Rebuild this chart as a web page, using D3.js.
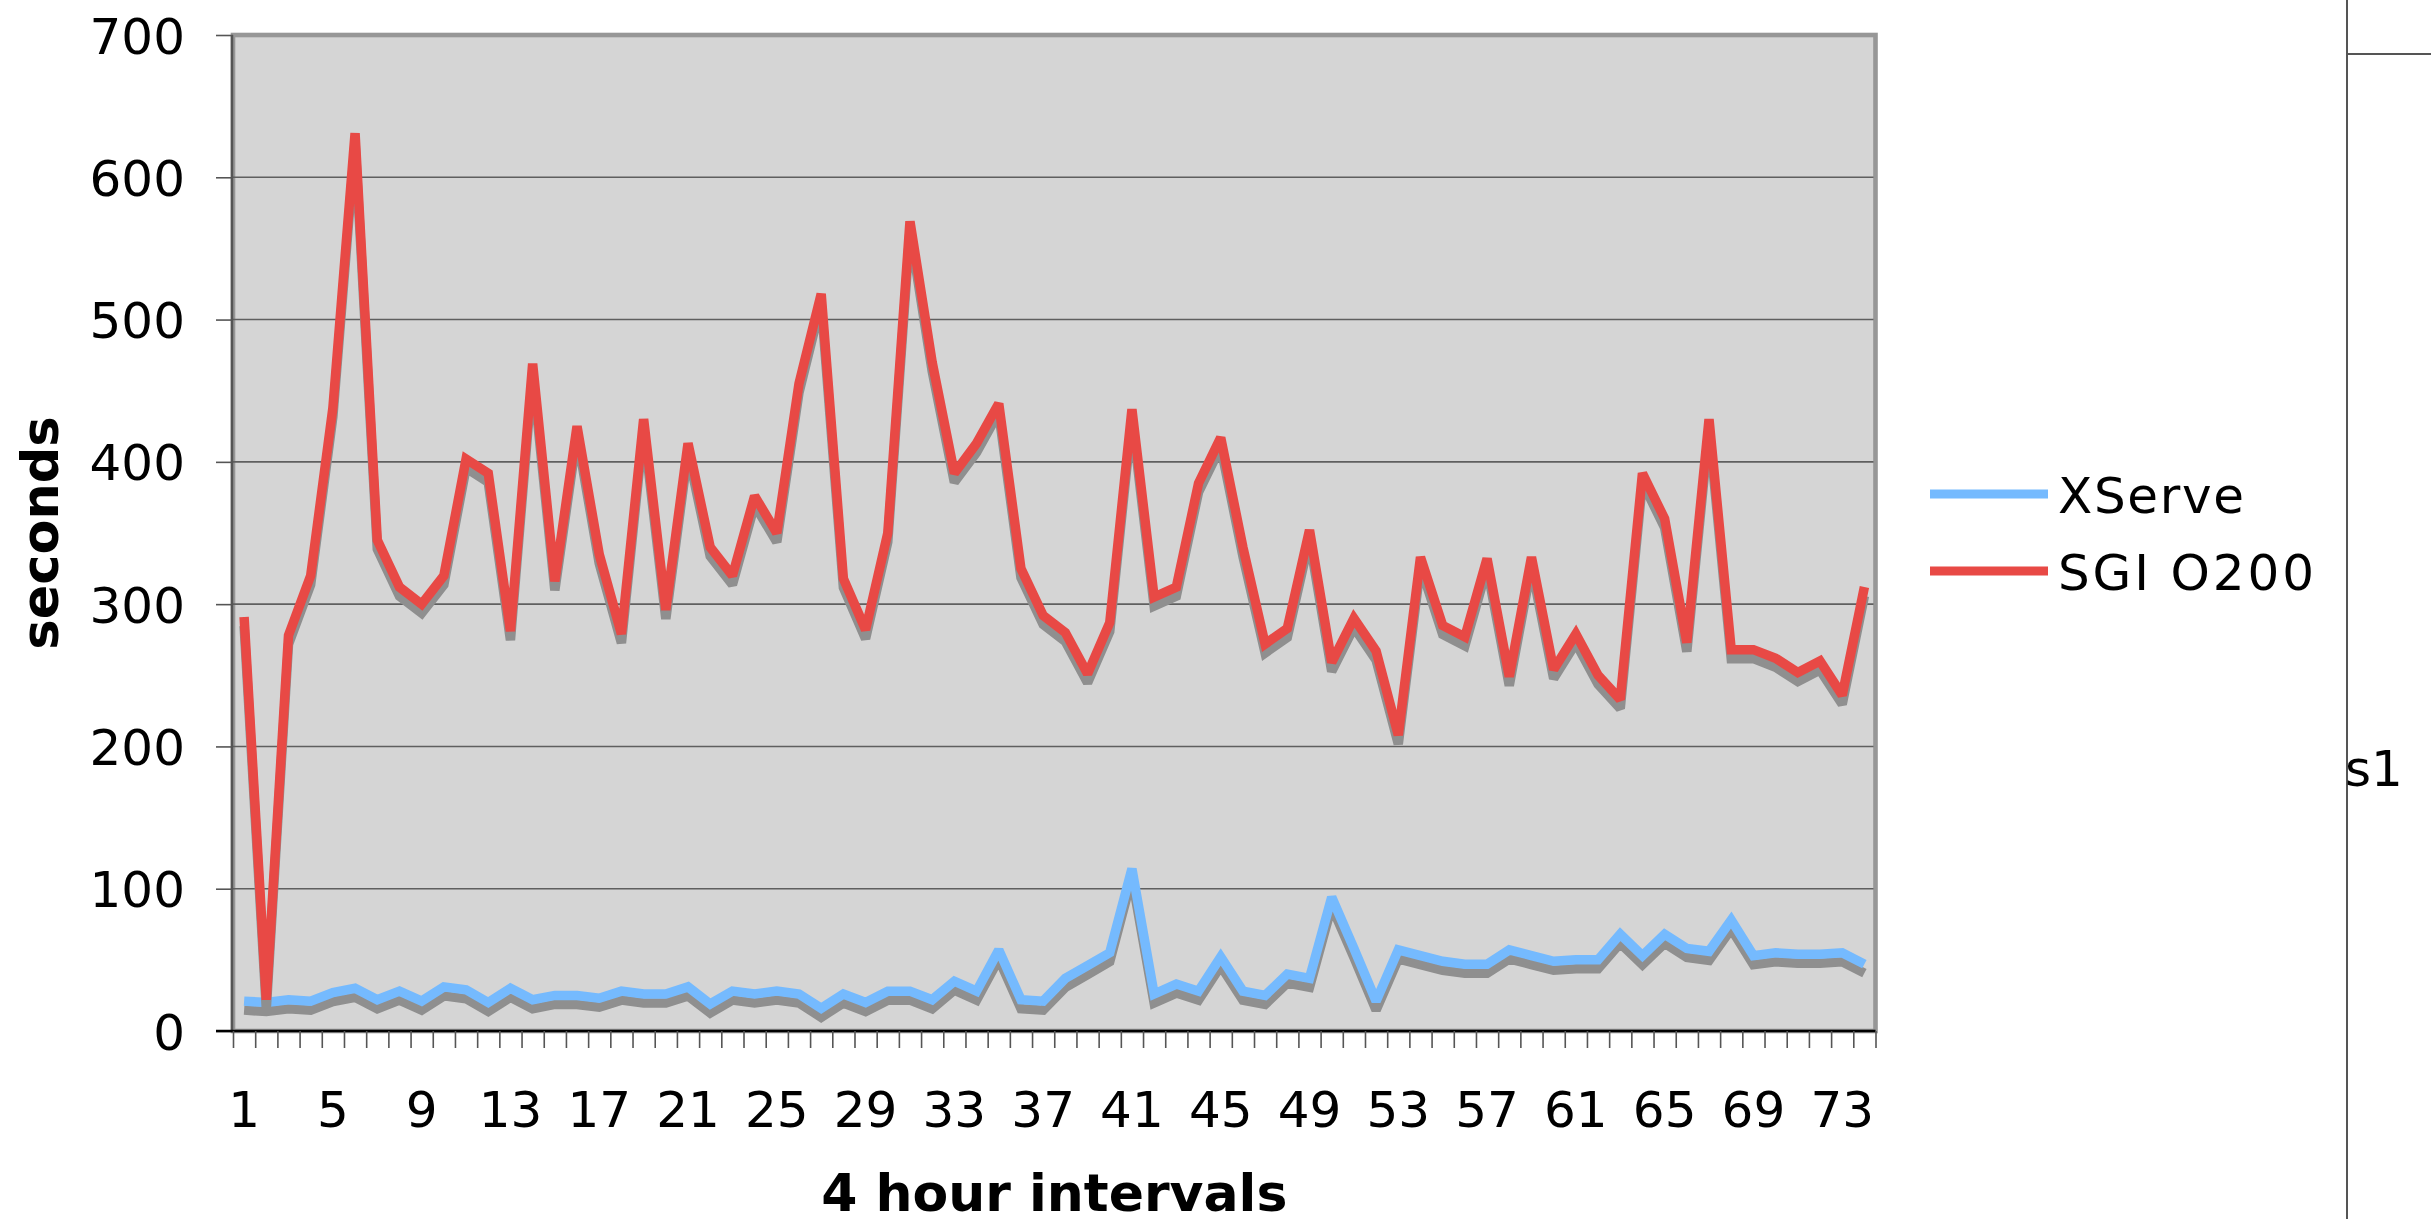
<!DOCTYPE html>
<html><head><meta charset="utf-8">
<script src="https://cdn.jsdelivr.net/npm/d3@7/dist/d3.min.js"></script>
<style>html,body{margin:0;padding:0;background:#fff;overflow:hidden}svg{display:block}</style>
</head><body>
<svg id="chart" width="2431" height="1219"></svg>
<script>
// ---- data ----
const categories = [1,2,3,4,5,6,7,8,9,10,11,12,13,14,15,16,17,18,19,20,21,22,23,24,25,26,27,28,29,30,31,32,33,34,35,36,37,38,39,40,41,42,43,44,45,46,47,48,49,50,51,52,53,54,55,56,57,58,59,60,61,62,63,64,65,66,67,68,69,70,71,72,73,74];
const xserve = [21,20,22,21,27,30,22,28,21,31,29,20,30,22,25,25,23,28,26,26,31,19,28,26,28,26,16,26,20,28,28,22,35,28,57,22,21,37,46,55,114,26,33,28,52,28,25,40,37,94,58,21,57,53,49,47,47,57,53,49,50,50,68,53,68,58,56,78,53,55,54,54,55,47];
const sgi = [291,22,278,320,438,631,345,312,300,320,402,392,281,469,316,425,335,279,430,296,413,340,320,376,350,455,518,318,282,350,569,470,392,413,441,325,292,280,251,287,437,305,312,385,417,340,272,283,352,259,290,267,208,333,285,277,332,249,333,254,279,250,233,392,360,273,430,268,268,262,252,260,236,312];
const seriesNames = ["XServe", "SGI O200"];
const seriesColors = ["#75BAFE", "#E84945"];
const yTicks = [0,100,200,300,400,500,600,700];
const xTickLabels = [1,5,9,13,17,21,25,29,33,37,41,45,49,53,57,61,65,69,73];
const yTitle = "seconds";
const xTitle = "4 hour intervals";
const sideLabel = "s1";

// ---- layout ----
const W = 2431, H = 1219;
const L = 233, R = 1875.5, T = 35, B = 1031;
const FONT = "'DejaVu Sans', Verdana, sans-serif";
const svg = d3.select("#chart");

const x = d3.scaleBand().domain(categories).range([L, R]);
const xb = d3.scaleLinear().domain([0, categories.length]).range([L, R]);
const y = d3.scaleLinear().domain([0, 700]).range([B, T]);

// plot area
svg.append("rect").attr("x", L).attr("y", T).attr("width", R - L).attr("height", B - T)
  .attr("fill", "#D5D5D5").attr("stroke", "#979797").attr("stroke-width", 4.6);

// gridlines
svg.append("g").selectAll("line").data(yTicks.filter(d => d > 0 && d < 700)).join("line")
  .attr("x1", L).attr("x2", R - 2).attr("y1", d => y(d)).attr("y2", d => y(d))
  .attr("stroke", "#5f5f5f").attr("stroke-width", 1.6);

// series
const line = d3.line().x((d, i) => x(categories[i]) + x.bandwidth() / 2).y(d => y(d));
[xserve, sgi].forEach((vals, k) => {
  svg.append("path").datum(vals).attr("d", line).attr("fill", "none")
    .attr("stroke", "#8F8F8F").attr("stroke-width", 9.5).attr("stroke-linejoin", "miter")
    .attr("stroke-miterlimit", 2).attr("transform", "translate(0,9)");
  svg.append("path").datum(vals).attr("d", line).attr("fill", "none")
    .attr("stroke", seriesColors[k]).attr("stroke-width", 9.5).attr("stroke-linejoin", "miter")
    .attr("stroke-miterlimit", 2);
});

// y axis
const yAxis = svg.append("g").attr("transform", `translate(${L},0)`)
  .call(d3.axisLeft(y).tickValues(yTicks).tickSize(17).tickSizeOuter(0).tickPadding(31));
yAxis.select(".domain").attr("stroke", "#555").attr("stroke-width", 2.5).attr("d", `M-1,${T}V${B}`);
yAxis.selectAll(".tick line").attr("stroke", "#555").attr("stroke-width", 1.6);
yAxis.selectAll("text").attr("font-family", FONT).attr("font-size", 50).attr("fill", "#000").attr("dy", "0.36em");

// x axis ticks at category boundaries
const xTicksG = svg.append("g").attr("transform", `translate(0,${B})`)
  .call(d3.axisBottom(xb).tickValues(d3.range(0, categories.length + 1)).tickSize(17).tickSizeOuter(0).tickFormat(""));
xTicksG.select(".domain").attr("stroke", "#000").attr("stroke-width", 2.5).attr("d", `M216,0H${R}`);
xTicksG.selectAll(".tick line").attr("stroke", "#555").attr("stroke-width", 1.6);

// x labels
const xLab = svg.append("g").attr("transform", `translate(0,${B})`)
  .call(d3.axisBottom(x).tickValues(xTickLabels).tickSize(0).tickPadding(60));
xLab.select(".domain").remove();
xLab.selectAll("text").attr("font-family", FONT).attr("font-size", 50).attr("fill", "#000");

// axis titles
svg.append("text").attr("transform", `translate(58,533) rotate(-90)`).attr("text-anchor", "middle")
  .attr("font-family", FONT).attr("font-weight", "bold").attr("font-size", 51).text(yTitle);
svg.append("text").attr("x", (L + R) / 2).attr("y", 1211).attr("text-anchor", "middle")
  .attr("font-family", FONT).attr("font-weight", "bold").attr("font-size", 52).text(xTitle);

// legend
const legY = [494, 571];
const legW = [186, 256];
const leg = svg.append("g");
seriesNames.forEach((n, k) => {
  leg.append("line").attr("x1", 1930).attr("x2", 2048).attr("y1", legY[k]).attr("y2", legY[k])
    .attr("stroke", seriesColors[k]).attr("stroke-width", 9);
  leg.append("text").attr("x", 2058).attr("y", legY[k] + 19).attr("font-family", FONT)
    .attr("font-size", 50).attr("fill", "#000").attr("textLength", legW[k])
    .attr("lengthAdjust", "spacing").text(n);
});

// right-side cell fragment
svg.append("line").attr("x1", 2347).attr("x2", 2347).attr("y1", 0).attr("y2", H).attr("stroke", "#555").attr("stroke-width", 2);
svg.append("line").attr("x1", 2347).attr("x2", W).attr("y1", 54).attr("y2", 54).attr("stroke", "#555").attr("stroke-width", 2);
svg.append("text").attr("x", 2345).attr("y", 786).attr("font-family", FONT).attr("font-size", 50).attr("fill", "#000").text(sideLabel);
</script>
</body></html>
